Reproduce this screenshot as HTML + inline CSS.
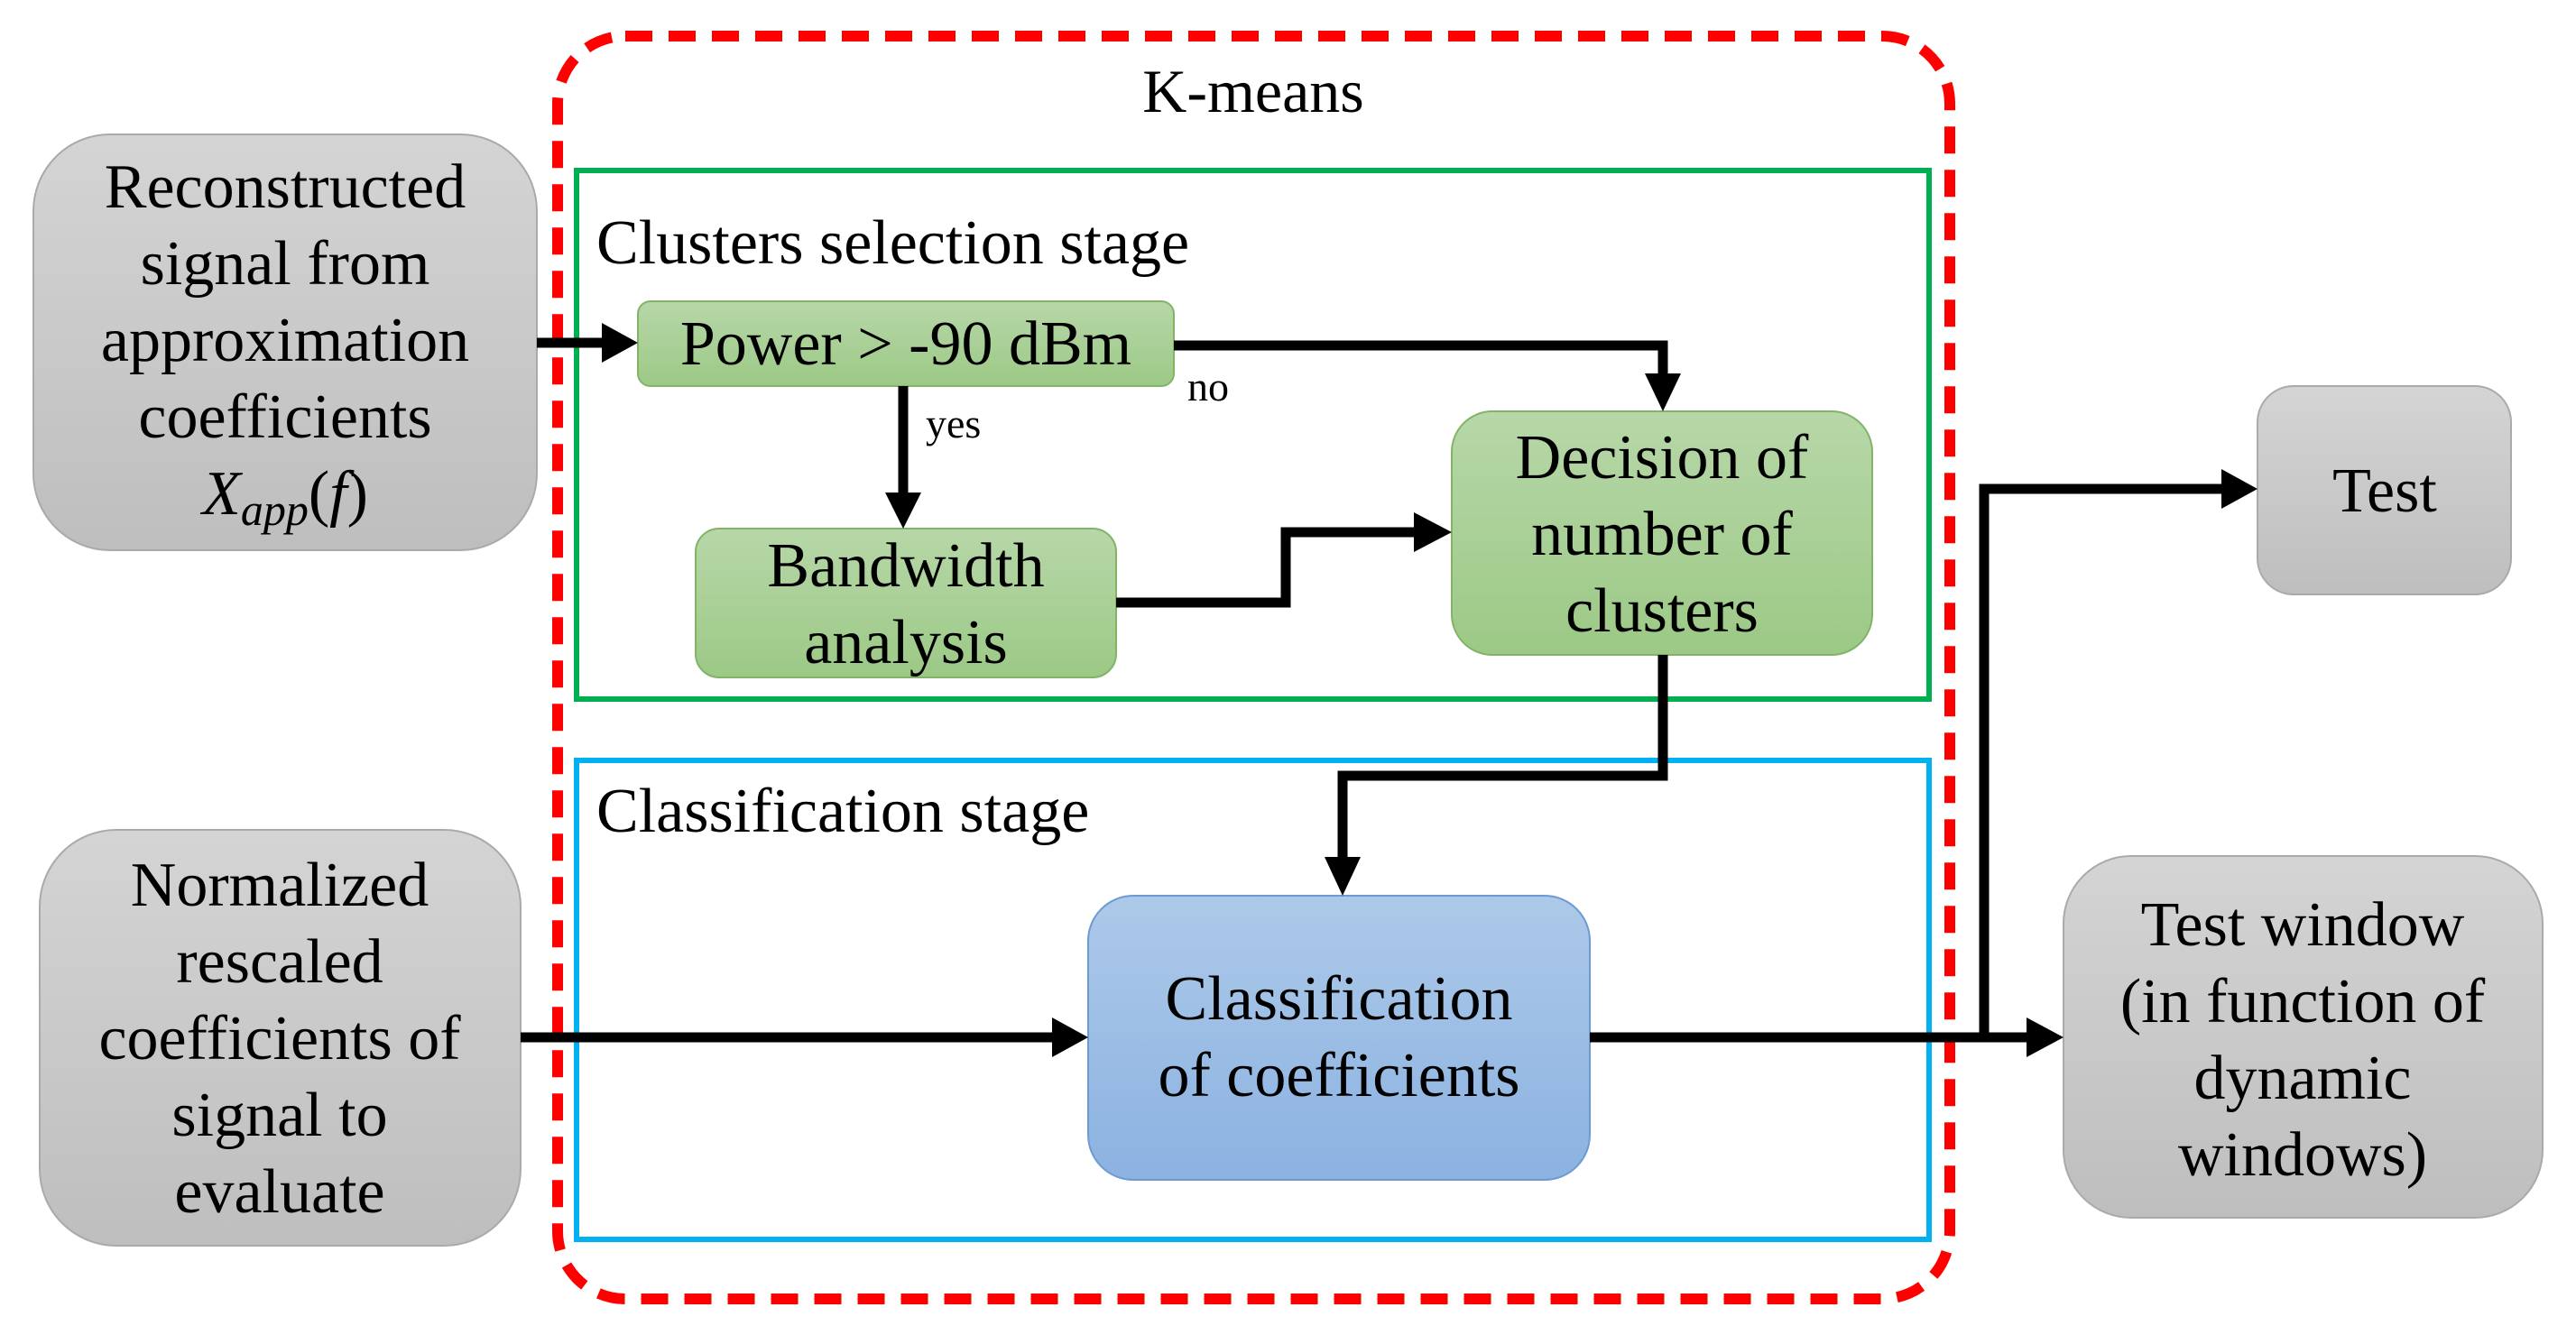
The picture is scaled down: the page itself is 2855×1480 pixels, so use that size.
<!DOCTYPE html>
<html><head><meta charset="utf-8"><style>
html,body{margin:0;padding:0;background:#fff;}
svg{display:block;}
text{font-family:"Liberation Serif",serif;fill:#000;}
</style></head><body>
<svg width="2855" height="1480" viewBox="0 0 2855 1480" xmlns="http://www.w3.org/2000/svg">
<defs>
<linearGradient id="gg" x1="0" y1="0" x2="0" y2="1"><stop offset="0" stop-color="#d4d4d4"/><stop offset="1" stop-color="#bebebe"/></linearGradient>
<linearGradient id="gr" x1="0" y1="0" x2="0" y2="1"><stop offset="0" stop-color="#b7d7a8"/><stop offset="1" stop-color="#9cc986"/></linearGradient>
<linearGradient id="bl" x1="0" y1="0" x2="0" y2="1"><stop offset="0" stop-color="#adc9e9"/><stop offset="1" stop-color="#8bb2e1"/></linearGradient>
</defs>
<rect x="618" y="40" width="1543" height="1400" rx="75" fill="none" stroke="#ff0000" stroke-width="12" stroke-dasharray="30,18"/>
<text x="1389" y="124" font-size="68" text-anchor="middle">K-means</text>
<rect x="639" y="189" width="1499" height="586" fill="none" stroke="#00b050" stroke-width="6"/>
<text x="661" y="292" font-size="70">Clusters selection stage</text>
<rect x="639" y="843" width="1499" height="531" fill="none" stroke="#00b0f0" stroke-width="6"/>
<text x="661" y="922" font-size="70">Classification stage</text>

<rect x="37" y="149" width="558" height="461" rx="85" fill="url(#gg)" stroke="#aaa" stroke-width="2"/>
<g font-size="70" text-anchor="middle">
<text x="316" y="230">Reconstructed</text>
<text x="316" y="315">signal from</text>
<text x="316" y="400">approximation</text>
<text x="316" y="485">coefficients</text>
<text x="316" y="570" font-style="italic">X<tspan font-size="50" dy="12">app</tspan><tspan dy="-12" font-style="normal">(</tspan>f<tspan font-style="normal">)</tspan></text>
</g>
<rect x="44" y="920" width="533" height="461" rx="85" fill="url(#gg)" stroke="#aaa" stroke-width="2"/>
<g font-size="70" text-anchor="middle">
<text x="310" y="1004">Normalized</text>
<text x="310" y="1089">rescaled</text>
<text x="310" y="1174">coefficients of</text>
<text x="310" y="1259">signal to</text>
<text x="310" y="1344">evaluate</text>
</g>
<rect x="707" y="334" width="594" height="94" rx="14" fill="url(#gr)" stroke="#82b366" stroke-width="2"/>
<text x="1004" y="404" font-size="70" text-anchor="middle">Power &gt; -90 dBm</text>
<rect x="771" y="586" width="466" height="165" rx="26" fill="url(#gr)" stroke="#82b366" stroke-width="2"/>
<text x="1004" y="650" font-size="70" text-anchor="middle">Bandwidth</text>
<text x="1004" y="735" font-size="70" text-anchor="middle">analysis</text>
<rect x="1609" y="456" width="466" height="270" rx="45" fill="url(#gr)" stroke="#82b366" stroke-width="2"/>
<g font-size="70" text-anchor="middle">
<text x="1842" y="530">Decision of</text>
<text x="1842" y="615">number of</text>
<text x="1842" y="700">clusters</text>
</g>
<rect x="1206" y="993" width="556" height="315" rx="50" fill="url(#bl)" stroke="#6c9bd2" stroke-width="2"/>
<text x="1484" y="1130" font-size="70" text-anchor="middle">Classification</text>
<text x="1484" y="1215" font-size="70" text-anchor="middle">of coefficients</text>
<rect x="2502" y="428" width="281" height="231" rx="40" fill="url(#gg)" stroke="#aaa" stroke-width="2"/>
<text x="2643" y="567" font-size="70" text-anchor="middle">Test</text>
<rect x="2287" y="949" width="531" height="401" rx="75" fill="url(#gg)" stroke="#aaa" stroke-width="2"/>
<g font-size="70" text-anchor="middle">
<text x="2552" y="1048">Test window</text>
<text x="2552" y="1133">(in function of</text>
<text x="2552" y="1218">dynamic</text>
<text x="2552" y="1303">windows)</text>
</g>

<g fill="none" stroke="#000" stroke-width="11">
<line x1="595" y1="380" x2="670" y2="380"/>
<polyline points="1301,383 1843,383 1843,420"/>
<line x1="1001" y1="428" x2="1001" y2="550"/>
<polyline points="1237,668 1425,668 1425,590 1572,590"/>
<polyline points="1843,726 1843,860 1488,860 1488,955"/>
<line x1="577" y1="1150" x2="1170" y2="1150"/>
<line x1="1762" y1="1150" x2="2250" y2="1150"/>
<polyline points="2199,1150 2199,542 2465,542"/>
</g>
<g fill="#000">
<polygon points="707,380 667,358 667,402"/>
<polygon points="1843,456 1823,414 1863,414"/>
<polygon points="1001,586 981,546 1021,546"/>
<polygon points="1609,590 1567,568 1567,612"/>
<polygon points="1488,993 1468,950 1508,950"/>
<polygon points="1206,1150 1166,1128 1166,1172"/>
<polygon points="2287,1150 2246,1128 2246,1172"/>
<polygon points="2502,542 2462,520 2462,564"/>
</g>
<text x="1316" y="444" font-size="46">no</text>
<text x="1026" y="485" font-size="46">yes</text>
</svg>
</body></html>
